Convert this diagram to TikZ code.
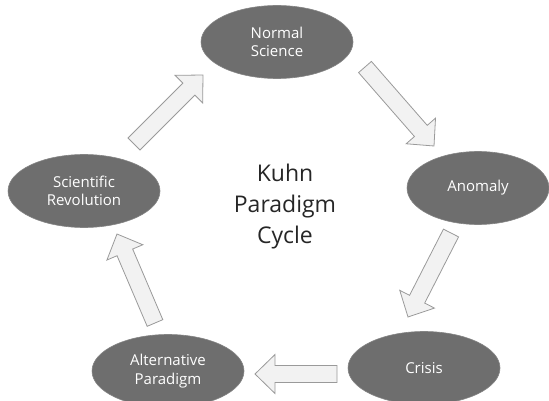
\documentclass[tikz,border=0pt]{standalone}
\usepackage{fontspec}
\setmainfont{Open Sans}
\usetikzlibrary{shapes.geometric,calc}
\definecolor{ellfill}{HTML}{6E6E6E}
\definecolor{arrfill}{HTML}{F2F2F2}
\definecolor{arrline}{HTML}{9A9A9A}
\definecolor{centertext}{HTML}{262626}
\tikzset{
  phase/.style={ellipse, fill=ellfill, draw=ellfill!85!white, line width=0.6pt, text=white,
    minimum width=152pt, minimum height=73pt, inner sep=0pt, align=center,
    font=\fontsize{15}{18.5}\selectfont},
  blockarrow/.style={fill=arrfill, draw=arrline, line width=0.8pt, line join=miter},
}
\newcommand{\blockarr}[2]{%
  \draw[blockarrow]
    ($(#1)!8.5pt!90:(#2)$) --
    ($($(#2)!20pt!(#1)$)!8.5pt!90:(#2)$) --
    ($($(#2)!20pt!(#1)$)!19.5pt!90:(#2)$) --
    (#2) --
    ($($(#2)!20pt!(#1)$)!19.5pt!-90:(#2)$) --
    ($($(#2)!20pt!(#1)$)!8.5pt!-90:(#2)$) --
    ($(#1)!8.5pt!-90:(#2)$) -- cycle;}
\begin{document}
\begin{tikzpicture}[x=1pt,y=-1pt]
\useasboundingbox (0,0) rectangle (549,401);
\begin{scope}
\clip (0,0) rectangle (549,401);
\node[phase] (ns) at (277,42) {Normal\\Science};
\node[phase, minimum width=142pt] (an) at (478,188) {Anomaly};
\node[phase] (cr) at (424,368) {Crisis};
\node[phase] (ap) at (168,371) {Alternative\\Paradigm};
\node[phase] (sr) at (84,191) {Scientific\\Revolution};
\end{scope}
\node[align=center, text=centertext, font=\fontsize{23}{31}\selectfont] (title) at (285,207) {Kuhn\\Paradigm\\Cycle};
% arrow end points
\coordinate (a1t) at (365,67);  \coordinate (a1h) at (434,146);
\coordinate (a2t) at (451,233); \coordinate (a2h) at (408,317);
\coordinate (a3t) at (337,374); \coordinate (a3h) at (255,374);
\coordinate (a4t) at (155,323); \coordinate (a4h) at (117,234);
\coordinate (a5t) at (134,144); \coordinate (a5h) at (203,75);
\blockarr{a1t}{a1h}
\blockarr{a2t}{a2h}
\blockarr{a3t}{a3h}
\blockarr{a4t}{a4h}
\blockarr{a5t}{a5h}
\end{tikzpicture}
\end{document}
